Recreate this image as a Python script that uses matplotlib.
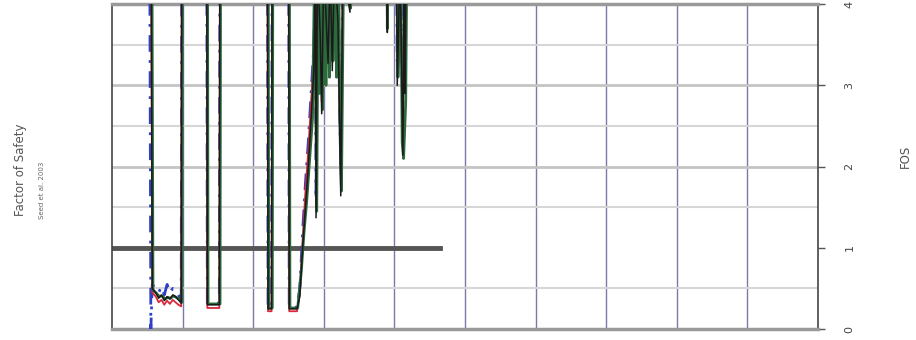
import matplotlib.pyplot as plt

# depth along the (rotated) log, FOS capped by the axis at 4
depth = [0.0, 0.53, 0.55, 0.57, 0.62, 0.66, 0.70, 0.74, 0.78, 0.82, 0.86, 0.90, 0.94, 0.98, 0.99,
         1.34, 1.35, 1.52, 1.53, 2.20, 2.21, 2.26, 2.27, 2.50, 2.51, 2.62, 2.66, 2.70, 2.74, 2.78,
         2.82, 2.86, 2.88, 2.89, 2.91, 2.95, 2.97, 3.00, 3.06, 3.09, 3.12, 3.15, 3.20, 3.24, 3.27,
         3.37, 3.40, 3.89, 3.90, 3.91, 4.02, 4.04, 4.08, 4.12, 4.14, 4.15, 4.18, 10.0]

fos_black = [6, 6, 6, 0.50, 0.45, 0.38, 0.42, 0.35, 0.40, 0.37, 0.42, 0.40, 0.36, 0.32, 6,
             6, 0.30, 0.30, 6, 6, 0.25, 0.25, 6, 6, 0.25, 0.25, 0.40, 1.00, 1.50, 2.00,
             2.60, 3.20, 4.50, 1.37, 4.50, 3.60, 2.65, 4.50, 3.27, 4.50, 3.18, 4.50, 3.80, 1.64, 4.50,
             3.90, 6, 6, 3.65, 6, 6, 3.00, 4.50, 2.14, 4.50, 2.90, 6, 6]

fos_red = [6, 6, 6, 0.45, 0.40, 0.33, 0.36, 0.30, 0.35, 0.31, 0.36, 0.33, 0.30, 0.28, 6,
           6, 0.26, 0.26, 6, 6, 0.22, 0.22, 6, 6, 0.22, 0.22, 0.45, 1.10, 1.70, 2.20,
           2.80, 3.40, 4.50, 1.50, 4.50, 3.70, 2.80, 4.50, 3.40, 4.50, 3.30, 4.50, 3.90, 1.90, 4.50,
           3.95, 6, 6, 3.80, 6, 6, 3.20, 4.50, 2.50, 4.50, 3.10, 6, 6]

fos_blue = [6, 6, 0.0, 0.55, 0.50, 0.45, 0.52, 0.42, 0.55, 0.45, 0.50, 0.47, 0.42, 0.36, 6,
            6, 0.32, 0.32, 6, 6, 0.27, 0.27, 6, 6, 0.27, 0.27, 0.50, 1.20, 1.80, 2.30,
            2.90, 3.50, 4.50, 1.60, 4.50, 3.80, 2.90, 4.50, 3.50, 4.50, 3.40, 4.50, 4.00, 2.00, 4.50,
            4.00, 6, 6, 3.85, 6, 6, 3.30, 4.50, 2.60, 4.50, 3.20, 6, 6]

# green series sampled a little more densely in the spiky zone
depth_green = [0.0, 0.56, 0.58, 0.63, 0.67, 0.71, 0.75, 0.79, 0.83, 0.87, 0.91, 0.95, 0.99, 1.00,
               1.35, 1.36, 1.53, 1.54, 2.21, 2.22, 2.27, 2.28, 2.51, 2.52, 2.63, 2.68, 2.72, 2.76,
               2.80, 2.84, 2.87, 2.90, 2.92, 2.94, 2.96, 2.98, 3.01, 3.03, 3.05, 3.08, 3.10, 3.13,
               3.16, 3.18, 3.21, 3.23, 3.25, 3.28, 3.38, 3.41, 3.89, 3.90, 3.91, 4.03, 4.05, 4.09,
               4.11, 4.13, 4.16, 4.19, 10.0]
fos_green = [6, 6, 0.48, 0.44, 0.40, 0.41, 0.37, 0.39, 0.38, 0.41, 0.39, 0.37, 0.33, 6,
             6, 0.31, 0.31, 6, 6, 0.26, 0.26, 6, 6, 0.26, 0.26, 0.70, 1.20, 1.60,
             2.10, 2.60, 4.50, 1.45, 4.50, 2.90, 4.50, 2.70, 4.50, 3.00, 4.50, 3.10, 4.50, 3.30,
             4.50, 3.10, 4.50, 2.40, 1.70, 4.50, 3.95, 6, 6, 3.70, 6, 6, 3.10, 4.50,
             2.30, 2.10, 2.80, 6, 6]

limit_depth = [0.0, 4.65]
limit_fos = [1.0, 1.0]

fig = plt.figure(figsize=(9.16, 3.40), dpi=100)
ax = fig.add_axes([0.1223, 0.032, 0.7707, 0.956])

ax.set_xlim(0, 10)
ax.set_ylim(0, 4)

# grid
for xv in range(1, 10):
    ax.axvline(xv, color='#7a7aa8', lw=1.0, zorder=1)
for yv in [0.5, 1.5, 2.5, 3.5]:
    ax.axhline(yv, color='#d6d6d6', lw=1.5, zorder=1)
for yv in [2, 3]:
    ax.axhline(yv, color='#c4c4c4', lw=2.0, zorder=1)

ax.plot(limit_depth, limit_fos, color='#555555', lw=3.5, zorder=2)

ax.plot(depth, fos_blue, color='#2f3fc8', lw=2.0, ls=(0, (6, 3, 1, 3)), zorder=3)
ax.plot(depth, fos_red, color='#d8283c', lw=1.3, zorder=4)
ax.plot(depth_green, fos_green, color='#2c6a3c', lw=2.0, zorder=5)
ax.plot(depth, fos_black, color='#1a1a1a', lw=1.1, zorder=6)

for s in ['top', 'bottom']:
    ax.spines[s].set_color('#9a9a9a')
    ax.spines[s].set_linewidth(2.5)
for s in ['left', 'right']:
    ax.spines[s].set_color('#444444')
    ax.spines[s].set_linewidth(1.2)

ax.set_xticks([])
ax.yaxis.tick_right()
ax.set_yticks([0, 1, 2, 3, 4])
ax.tick_params(axis='y', direction='out', length=5, width=1, color='#555555',
               labelsize=8, labelcolor='#444444', pad=14)
for lab in ax.get_yticklabels():
    lab.set_rotation(90)
    lab.set_va('center')

fig.text(0.022, 0.5, 'Factor of Safety', rotation=90, ha='center', va='center',
         fontsize=8.5, color='#555555')
fig.text(0.046, 0.44, 'Seed et al. 2003', rotation=90, ha='center', va='center',
         fontsize=5, color='#666666')
fig.text(0.988, 0.54, 'FOS', rotation=90, ha='center', va='center',
         fontsize=8.5, color='#555555')

fig.savefig('out.png', dpi=100)
